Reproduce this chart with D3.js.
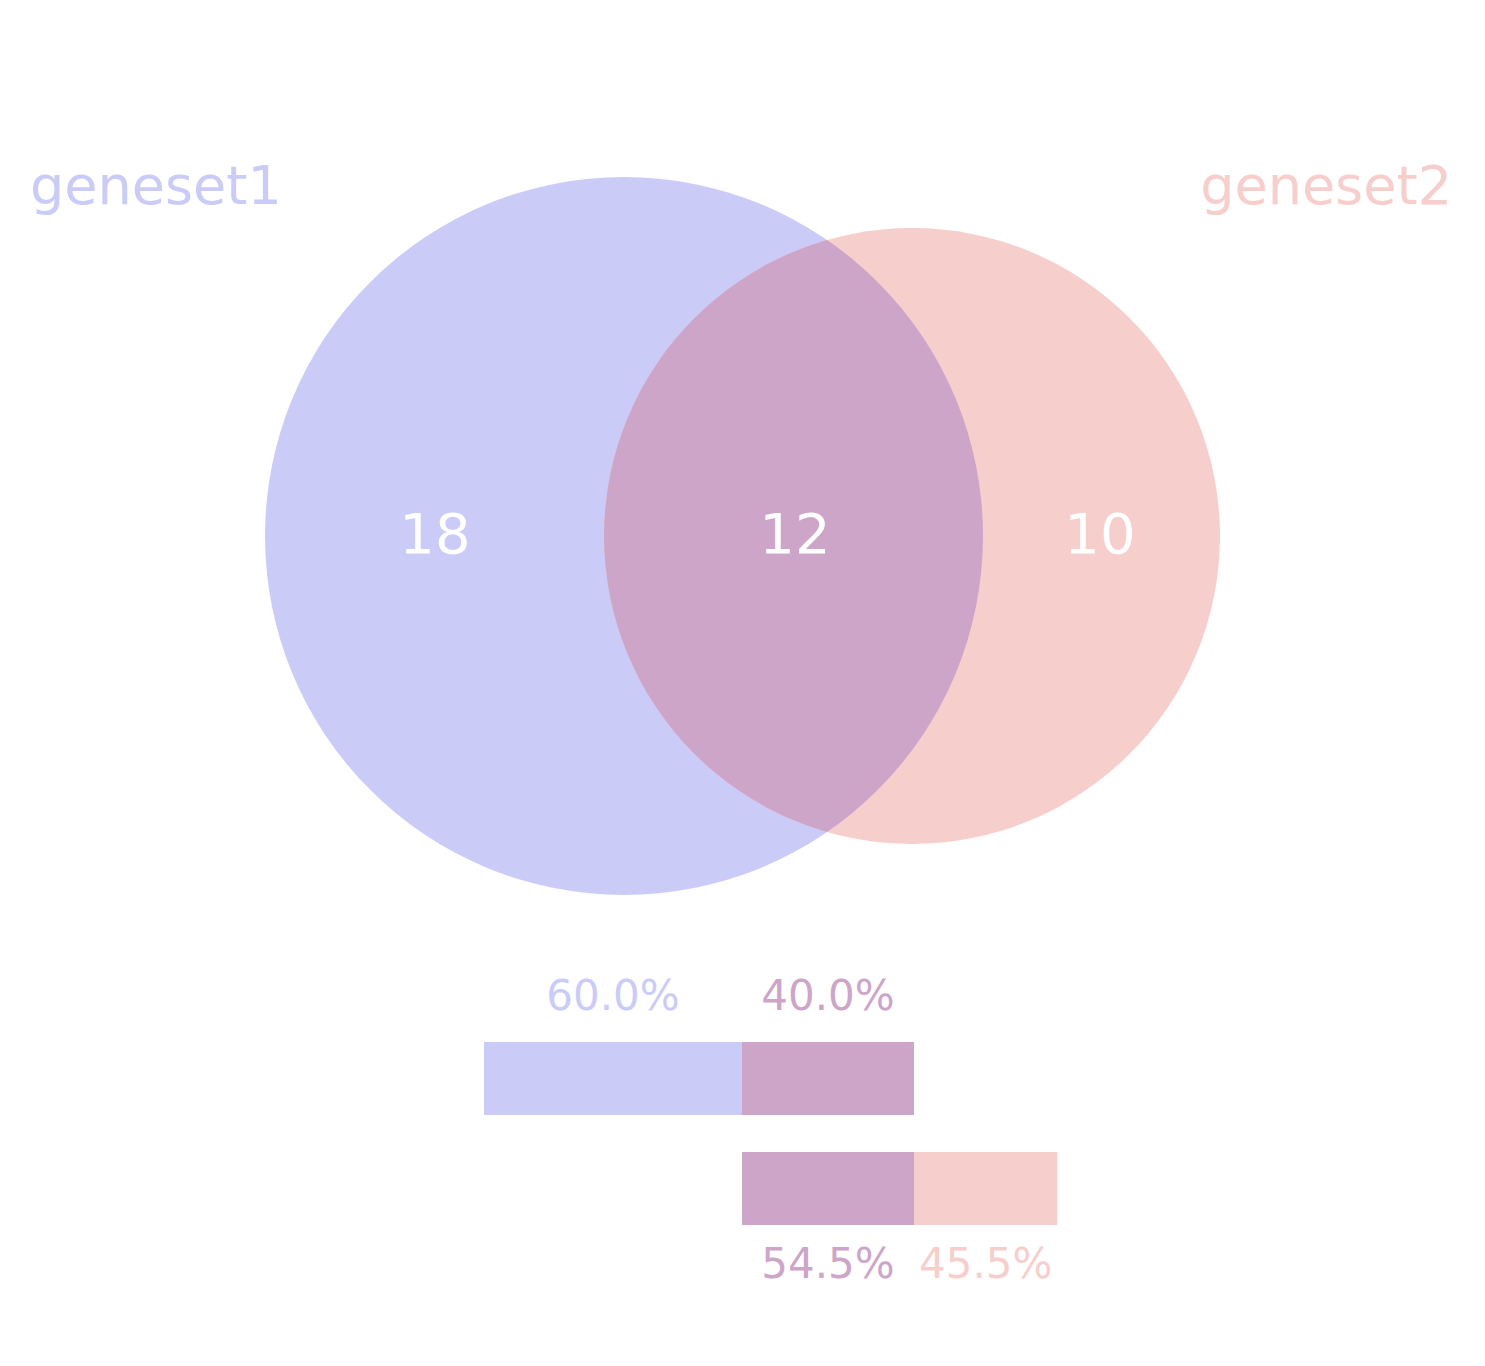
<!DOCTYPE html>
<html><head><meta charset="utf-8">
<script src="https://cdn.jsdelivr.net/npm/d3@7"></script>
<style>body{margin:0;background:#fff}text{font-family:"DejaVu Sans",sans-serif}</style>
</head><body><svg id="c" width="1485" height="1366"></svg>
<script>
const setNames = ["geneset1", "geneset2"];
const regionCounts = [18, 12, 10]; // only1, both, only2
const colors = ["#cbcbf8", "#cda5c9", "#f6cfcc"];

const svg = d3.select("#c");
const only1 = regionCounts[0], both = regionCounts[1], only2 = regionCounts[2];
const tot1 = only1 + both, tot2 = both + only2;

// circles
const r1 = 359, r2 = 308, cy = 536, cx1 = 624, cx2 = 912;
const defs = svg.append("defs");
defs.append("clipPath").attr("id", "clip1").append("circle")
    .attr("cx", cx1).attr("cy", cy).attr("r", r1);
svg.append("circle").attr("cx", cx1).attr("cy", cy).attr("r", r1).attr("fill", colors[0]);
svg.append("circle").attr("cx", cx2).attr("cy", cy).attr("r", r2).attr("fill", colors[2]);
svg.append("circle").attr("cx", cx2).attr("cy", cy).attr("r", r2).attr("fill", colors[1])
    .attr("clip-path", "url(#clip1)");

svg.append("text").attr("x", 30).attr("y", 204).attr("font-size", 54).attr("fill", colors[0]).text(setNames[0]);
svg.append("text").attr("x", 1452).attr("y", 204).attr("font-size", 54).attr("fill", colors[2])
    .attr("text-anchor", "end").text(setNames[1]);

const labelX = [435, 795, 1100];
svg.selectAll(".cnt").data(regionCounts).enter().append("text")
    .attr("x", (d, i) => labelX[i]).attr("y", 553).attr("font-size", 56)
    .attr("fill", "#fff").attr("text-anchor", "middle").text(d => d);

// bars
const x = d3.scaleLinear().domain([0, tot1]).range([484, 914]);
const bar1 = [{a: 0, b: only1, c: colors[0], p: only1 / tot1}, {a: only1, b: tot1, c: colors[1], p: both / tot1}];
const bar2 = [{a: only1, b: tot1, c: colors[1], p: both / tot2}, {a: tot1, b: tot1 + only2, c: colors[2], p: only2 / tot2}];

function drawBar(data, y0, ly) {
    svg.append("g").selectAll("rect").data(data).enter().append("rect")
        .attr("x", d => x(d.a)).attr("width", d => x(d.b) - x(d.a))
        .attr("y", y0).attr("height", 73).attr("fill", d => d.c);
    svg.append("g").selectAll("text").data(data).enter().append("text")
        .attr("x", d => (x(d.a) + x(d.b)) / 2).attr("y", ly)
        .attr("text-anchor", "middle").attr("font-size", 42).attr("fill", d => d.c)
        .text(d => (d.p * 100).toFixed(1) + "%");
}
drawBar(bar1, 1042, 1010);
drawBar(bar2, 1152, 1278);
</script></body></html>
